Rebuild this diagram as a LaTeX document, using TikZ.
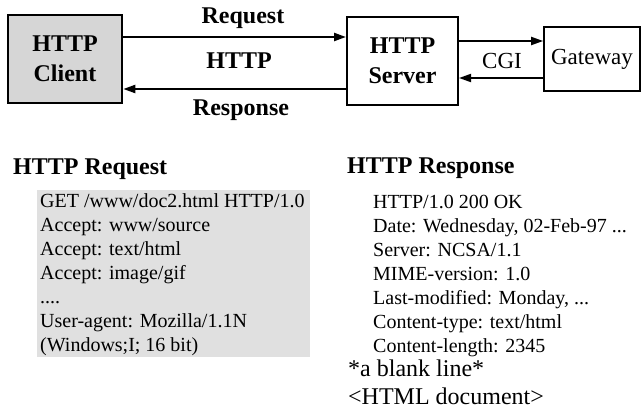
\documentclass[tikz,border=0pt]{standalone}
\usepackage{fontspec}
\setmainfont{Liberation Serif}
\usetikzlibrary{arrows.meta}
\definecolor{clientgray}{gray}{0.84}
\definecolor{msggray}{gray}{0.88}
\newcommand{\tdots}{...}
\newcommand{\qdots}{....}

\begin{document}
\begin{tikzpicture}[x=1pt,y=-1pt,
  box/.style={draw, line width=2pt, inner sep=0pt, align=center},
  bigbold/.style={font=\bfseries\fontsize{24}{30}\selectfont},
  link/.style={line width=2.2pt, -{Triangle[length=12pt,width=8pt]}},
  msg/.style={anchor=base west, inner sep=0pt, font=\fontsize{20}{24}\selectfont}]
\useasboundingbox (0,0) rectangle (642,412);
\node[box, bigbold, fill=clientgray, line width=2.6pt, minimum width=114pt, minimum height=88pt] (client) at (65,59) {HTTP\\Client};
\node[box, bigbold, minimum width=111pt, minimum height=88pt] (server) at (402.5,61) {HTTP\\Server};
\node[box, line width=1.6pt, font=\fontsize{23}{28}\selectfont, minimum width=96pt, minimum height=64pt] (gateway) at (592,59) {Gateway};
\coordinate (reqy) at (0,37);
\coordinate (respy) at (0,89);
\coordinate (cgiin) at (0,41);
\coordinate (cgiout) at (0,78);
\draw[link] (client.east |- reqy) -- (server.west |- reqy);
\draw[link] (server.west |- respy) -- (client.east |- respy);
\draw[link, line width=1.8pt] (server.east |- cgiin) -- (gateway.west |- cgiin);
\draw[link, line width=1.8pt] (gateway.west |- cgiout) -- (server.east |- cgiout);
\node[bigbold, anchor=base] (reqlabel) at (243,24) {Request};
\node[bigbold, anchor=base] (proto) at (239,69) {HTTP};
\node[bigbold, anchor=base] (resplabel) at (241,115) {Response};
\node[anchor=base, font=\fontsize{23}{28}\selectfont] (cgi) at (502,68) {CGI};

\node[bigbold, anchor=base west, inner sep=0pt] (reqhead) at (13,174) {HTTP Request};
\fill[msggray] (37,190) rectangle (310,357);
\foreach \txt [count=\i] in {GET /www/doc2.html HTTP/1.0, Accept: www/source, Accept: text/html,
    Accept: image/gif, \qdots, User-agent: Mozilla/1.1N, (Windows;I; 16 bit)}
  \node[msg] (req\i) at (40,207+24*\i-24) {\txt};

\node[bigbold, anchor=base west, inner sep=0pt] (resphead) at (347,173) {HTTP Response};
\foreach \txt [count=\i] in {HTTP/1.0 200 OK, {Date: Wednesday, 02-Feb-97 \tdots}, Server: NCSA/1.1,
    MIME-version: 1.0, {Last-modified: Monday, \tdots}, Content-type: text/html, Content-length: 2345}
  \node[msg] (resp\i) at (373,208+24*\i-24) {\txt};
\node[msg, font=\fontsize{24}{28}\selectfont] (blank) at (348,376) {*a blank line*};
\node[msg, font=\fontsize{24}{28}\selectfont] (body) at (348,404) {<HTML document>};
\end{tikzpicture}
\end{document}
